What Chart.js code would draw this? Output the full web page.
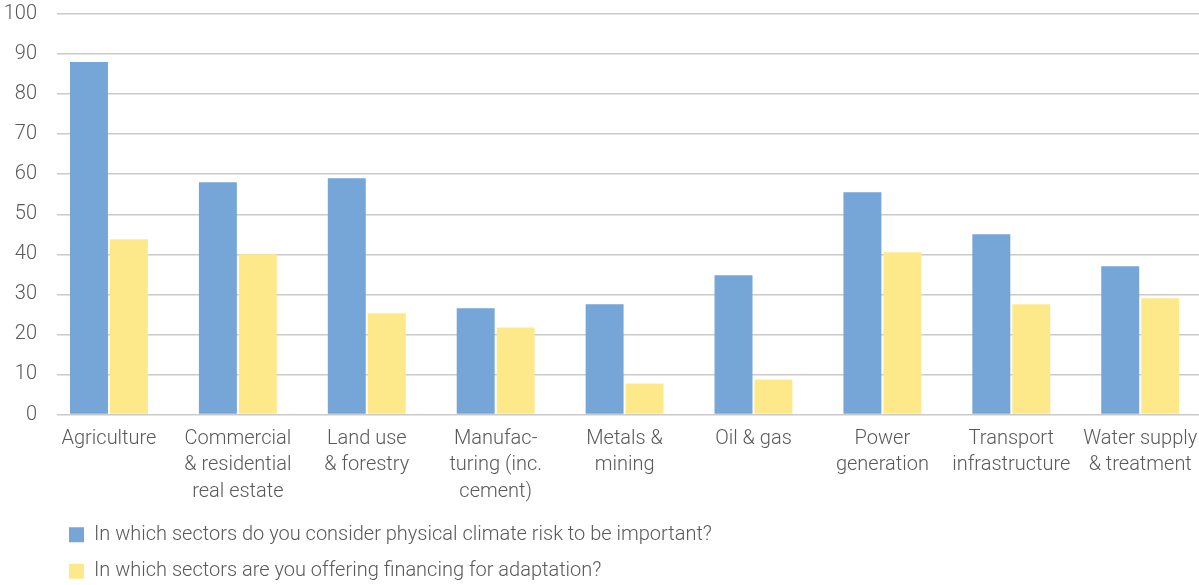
<!DOCTYPE html>
<html>
<head>
<meta charset="utf-8">
<script src="https://cdn.jsdelivr.net/npm/chart.js@4"></script>
<style>
html,body{margin:0;padding:0;background:#fff;overflow:hidden;}
#wrap{width:1199px;height:585px;position:relative;}
</style>
</head>
<body>
<div id="wrap"><canvas id="c" width="1199" height="585"></canvas></div>
<script>
const categories = [
  ["Agriculture"],
  ["Commercial", "& residential", "real estate"],
  ["Land use", "& forestry"],
  ["Manufac-", "turing (inc.", "cement)"],
  ["Metals &", "mining"],
  ["Oil & gas"],
  ["Power", "generation"],
  ["Transport", "infrastructure"],
  ["Water supply", "& treatment"]
];
const seriesNames = [
  "In which sectors do you consider physical climate risk to be important?",
  "In which sectors are you offering financing for adaptation?"
];
const riskImportant = [88, 58, 59, 26.5, 27.5, 34.75, 55.5, 45, 37];
const offeringFinancing = [43.75, 40, 25.25, 21.75, 7.75, 8.75, 40.5, 27.5, 29];
const yTicks = [0, 10, 20, 30, 40, 50, 60, 70, 80, 90, 100];

const toPoints = arr => arr.map((v, i) => ({x: i, y: v}));
const FONT = "Roboto";
const TEXT = "#595959";

const legendShift = {
  id: "legendShift",
  afterLayout(chart) {
    if (chart.legend) { chart.legend.left -= 4.5; chart.legend.right -= 4.5; }
  }
};

new Chart(document.getElementById("c"), {
  type: "bar",
  data: {
    datasets: [
      {label: seriesNames[0], data: toPoints(riskImportant), backgroundColor: "#76A5D7",
       barPercentage: 0.95, categoryPercentage: 0.62},
      {label: seriesNames[1], data: toPoints(offeringFinancing), backgroundColor: "#FEE98A",
       barPercentage: 0.95, categoryPercentage: 0.62}
    ]
  },
  plugins: [legendShift],
  options: {
    responsive: false,
    animation: false,
    layout: {padding: {top: 14, right: 0, left: 0, bottom: -6.2}},
    plugins: {
      tooltip: {enabled: false},
      legend: {
        position: "bottom",
        align: "start",
        fullSize: false,
        labels: {
          boxWidth: 15, boxHeight: 15, padding: 16.5,
          color: TEXT,
          font: {family: FONT, size: 20, weight: 300}
        }
      }
    },
    scales: {
      x: {
        type: "linear",
        min: -0.403, max: 8.456,
        offset: false,
        grid: {display: false, drawTicks: false},
        border: {display: false},
        afterBuildTicks: s => { s.ticks = categories.map((_, i) => ({value: i})); },
        afterFit: s => { s.height = 93.7; s.paddingLeft = 0; s.paddingRight = 0; },
        ticks: {
          autoSkip: false, maxRotation: 0, minRotation: 0,
          padding: 10.75,
          color: TEXT,
          font: {family: FONT, size: 20, weight: 300, lineHeight: 1.325},
          callback: (v) => categories[Math.round(v)] || ""
        }
      },
      y: {
        min: 0, max: 100,
        afterBuildTicks: s => { s.ticks = yTicks.map(v => ({value: v})); },
        afterFit: s => { s.width = 57; s.paddingTop = 0; s.paddingBottom = 0; },
        grid: {color: "#cacaca", lineWidth: 1.5, drawTicks: false},
        border: {display: false},
        ticks: {
          padding: 20,
          color: TEXT,
          font: {family: FONT, size: 20, weight: 300}
        }
      }
    }
  }
});
</script>
</body>
</html>
